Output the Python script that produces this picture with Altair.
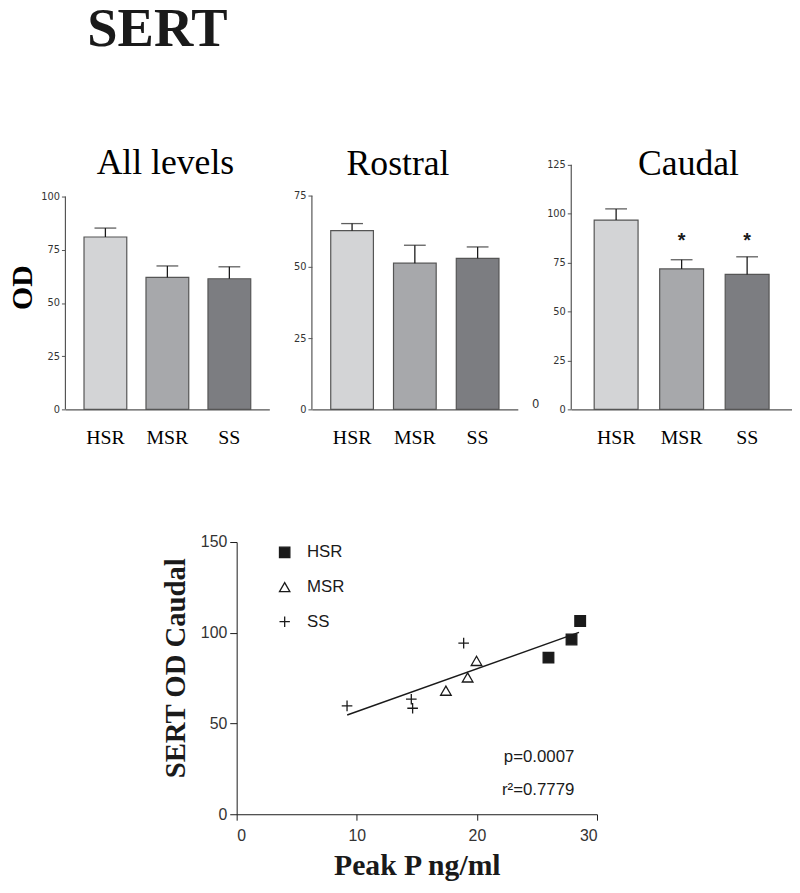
import altair as alt
import pandas as pd

# ---------------- data ----------------
groups = ["HSR", "MSR", "SS"]
bar_colors = ["#d3d4d6", "#a7a8ab", "#7c7d81"]

all_mean = [81.0, 62.0, 61.4]
all_sem = [4.2, 5.4, 5.6]
ros_mean = [62.7, 51.3, 53.0]
ros_sem = [2.5, 6.3, 4.0]
cau_mean = [96.8, 71.8, 69.0]
cau_sem = [5.7, 4.7, 9.0]
cau_sig = ["", "*", "*"]
cau_star_level = [None, 88.0, 88.0]

all_ticks = [0, 25, 50, 75, 100]
ros_ticks = [0, 25, 50, 75]
cau_ticks = [0, 25, 50, 75, 100, 125]

hsr_peak = [25.96, 27.88, 28.6]
hsr_od = [86.3, 96.3, 106.5]
msr_peak = [17.42, 19.23, 19.97]
msr_od = [68.1, 75.4, 84.5]
ss_peak = [9.19, 14.54, 14.65, 18.9]
ss_od = [59.7, 63.4, 58.4, 94.3]
fit_extent = [9.2, 28.5]

stat_labels = ["p=0.0007", "r\u00b2=0.7779"]
stat_x = [28.12, 28.12]
stat_y = [31.3, 13.4]

SERIF = "Liberation Serif"
SANS = "Liberation Sans"
NARROW = "Liberation Sans Narrow, DejaVu Sans Condensed, Liberation Sans"
INK = "#1a1a1a"
AX = "#555555"


def panel(title, mean, sem, ticks, dom_top, width, height, pad_in, pad_out,
          title_dx, title_dy, od_title=False, stars=None, star_level=None, stray=False):
    df = pd.DataFrame({"g": groups, "m": mean,
                       "u": [m + s for m, s in zip(mean, sem)]})
    ys = alt.Scale(domain=[0, dom_top], nice=False, zero=True)
    xs = alt.Scale(domain=groups, paddingInner=pad_in, paddingOuter=pad_out)
    yaxis = alt.Axis(values=ticks, domain=False, grid=False, tickSize=4,
                     tickColor=AX, tickWidth=1, labelFont=NARROW, labelFontSize=11,
                     labelColor="#333333", labelPadding=2,
                     title="OD" if od_title else None,
                     titleFont=SERIF, titleFontSize=30, titleFontWeight="bold",
                     titleColor="black", titlePadding=3)
    xaxis = alt.Axis(domain=True, domainColor=AX, domainWidth=1.2, ticks=False,
                     labelAngle=0, labelFont=SERIF, labelFontSize=20,
                     labelColor="black", labelPadding=18, title=None)
    base = alt.Chart(df)
    bars = base.mark_bar(stroke="#555555", strokeWidth=1.2).encode(
        x=alt.X("g:N", scale=xs, sort=groups, axis=xaxis),
        y=alt.Y("m:Q", scale=ys, axis=yaxis),
        color=alt.Color("g:N", scale=alt.Scale(domain=groups, range=bar_colors),
                        legend=None),
    )
    err = base.mark_rule(color=INK, strokeWidth=1.3).encode(
        x=alt.X("g:N", sort=groups), y="m:Q", y2="u:Q")
    cap = base.mark_tick(color=INK, thickness=1.3, size=22, orient="horizontal").encode(
        x=alt.X("g:N", sort=groups), y="u:Q")
    axis_line = alt.Chart(pd.DataFrame({"a": [0], "b": [ticks[-1]]})).mark_rule(
        color=AX, strokeWidth=1.2).encode(x=alt.value(0), y="a:Q", y2="b:Q")
    layers = [bars, err, cap, axis_line]
    if stars is not None:
        sdf = pd.DataFrame({"g": groups, "s": stars, "lvl": star_level}).dropna()
        layers.append(alt.Chart(sdf).mark_text(
            font=SANS, fontSize=20, fontWeight="bold", color=INK,
            baseline="middle", dy=4).encode(
            x=alt.X("g:N", sort=groups), y="lvl:Q", text="s:N"))
    if stray:
        layers.append(alt.Chart(pd.DataFrame({"v": [0], "t": ["0"]})).mark_text(
            font=NARROW, fontSize=13, color="#333333", align="center",
            baseline="middle", dy=-5).encode(
            x=alt.value(-36), y="v:Q", text="t:N"))
    return alt.layer(*layers).properties(
        width=width, height=height,
        title=alt.TitleParams(title, font=SERIF, fontSize=36, fontWeight="normal",
                              color="black", anchor="middle", frame="group",
                              dx=title_dx, dy=title_dy, offset=-9,
                              baseline="alphabetic"),
    )


p1 = panel("All levels", all_mean, all_sem, all_ticks, 114.9, 206, 247, 0.31, 0.3,
           -2, 36, od_title=True)
p2 = panel("Rostral", ros_mean, ros_sem, ros_ticks, 85.8, 208, 247, 0.32, 0.3, -17, 37)
p3 = panel("Caudal", cau_mean, cau_sem, cau_ticks, 125, 223, 247, 0.33, 0.35, 7, 43,
           stars=cau_sig, star_level=cau_star_level, stray=True)

row1 = alt.hconcat(
    p1,
    alt.hconcat(p2, p3, spacing=14).resolve_scale(x="independent", y="independent",
                                                   color="independent"),
    spacing=24,
).resolve_scale(x="independent", y="independent", color="independent")

# ---------------- scatter ----------------
scat = pd.DataFrame({
    "peak": hsr_peak + msr_peak + ss_peak,
    "od": hsr_od + msr_od + ss_od,
    "grp": ["HSR"] * len(hsr_peak) + ["MSR"] * len(msr_peak) + ["SS"] * len(ss_peak),
})
xs = alt.Scale(domain=[0, 30], nice=False)
ys = alt.Scale(domain=[0, 150], nice=False)
x_axis = alt.Axis(values=[0, 10, 20, 30], grid=False, domainColor=INK, tickColor=INK,
                  tickSize=6, labelFont=SANS, labelFontSize=16, labelColor="#333333",
                  labelPadding=8, title="Peak P ng/ml", titleFont=SERIF,
                  titleFontSize=30, titleFontWeight="bold", titleColor=INK,
                  titlePadding=7)
y_axis = alt.Axis(values=[0, 50, 100, 150], grid=False, domainColor=INK, tickColor=INK,
                  tickSize=7, labelFont=SANS, labelFontSize=16, labelColor="#333333",
                  labelPadding=3, title="SERT OD Caudal", titleFont=SERIF,
                  titleFontSize=29, titleFontWeight="bold", titleColor=INK,
                  titlePadding=10, titleY=127)

fit = alt.Chart(scat).transform_regression(
    "peak", "od", extent=fit_extent).mark_line(color=INK, strokeWidth=1.5).encode(
    x=alt.X("peak:Q", scale=xs, axis=x_axis),
    y=alt.Y("od:Q", scale=ys, axis=y_axis))

legend = alt.Legend(title=None, orient="none", legendX=40, legendY=2, padding=0,
                    rowPadding=17, labelOffset=14, labelFont=SANS, labelFontSize=17,
                    labelColor=INK, symbolStrokeWidth=1.3, symbolSize=110,
                    labelExpr="datum.label == 'SS' ? '\u00a0\u00a0SS' : datum.label")
pts = alt.Chart(scat).mark_point(filled=True, strokeWidth=1.3, size=115,
                                  opacity=1).encode(
    x=alt.X("peak:Q", scale=xs),
    y=alt.Y("od:Q", scale=ys),
    shape=alt.Shape("grp:N", scale=alt.Scale(
        domain=groups, range=["square", "triangle-up", "M-1,0L1,0M0,-1L0,1"]),
        legend=legend),
    fill=alt.Fill("grp:N", scale=alt.Scale(
        domain=groups, range=[INK, "transparent", "transparent"]), legend=legend),
    stroke=alt.Stroke("grp:N", scale=alt.Scale(
        domain=groups, range=[INK, INK, INK]), legend=legend),
)
stats = alt.Chart(pd.DataFrame({"x": stat_x, "y": stat_y, "t": stat_labels})).mark_text(
    font=SANS, fontSize=17, color=INK, align="right", baseline="middle").encode(
    x="x:Q", y="y:Q", text="t:N")

scatter = alt.layer(fit, pts, stats).properties(width=364, height=275)
spacer = alt.Chart(pd.DataFrame({"v": [0]})).mark_point(opacity=0).encode(
    x=alt.value(0), y=alt.value(0)).properties(width=97, height=1)
row2 = alt.hconcat(spacer, scatter, spacing=0).resolve_scale(
    x="independent", y="independent").resolve_legend(
    shape="independent", fill="independent", stroke="independent")

chart = alt.vconcat(row1, row2, spacing=88).resolve_scale(
    x="independent", y="independent", color="independent",
    fill="independent", shape="independent", stroke="independent").resolve_legend(
    shape="independent", fill="independent", stroke="independent").properties(
    padding={"top": -10, "left": 0, "right": 0, "bottom": 0},
    background="white",
    title=alt.TitleParams("SERT", font=SERIF, fontSize=55, fontWeight="bold",
                          color=INK, anchor="start", dx=80, dy=-5, offset=83),
).configure_view(stroke=None)

chart.save("out.html", embed_options={"renderer": "svg", "actions": False})
